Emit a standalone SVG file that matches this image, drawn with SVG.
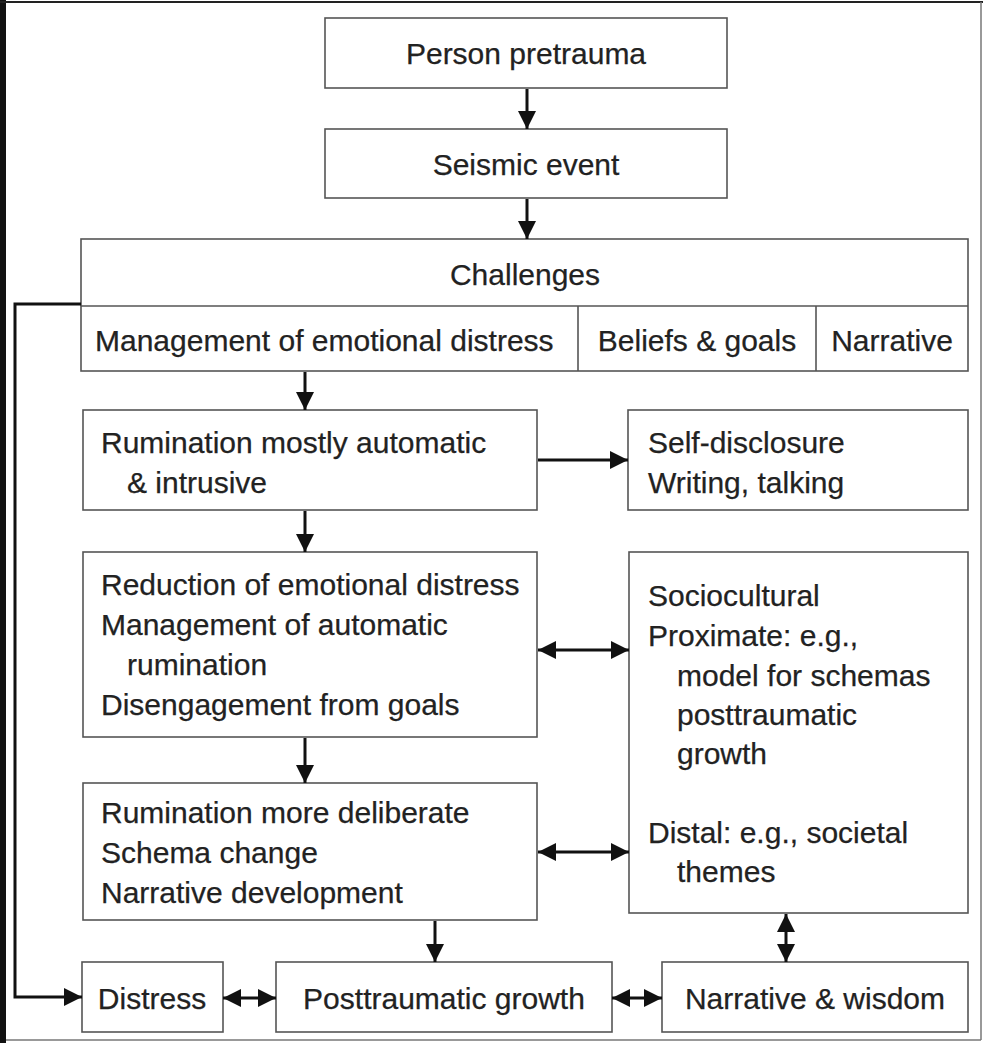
<svg xmlns="http://www.w3.org/2000/svg" width="983" height="1043" viewBox="0 0 983 1043">
<style>
.box{fill:#fff;stroke:#555;stroke-width:1.6}
.div{stroke:#555;stroke-width:1.6;fill:none}
.t{font-family:"Liberation Sans",Arial,sans-serif;font-size:30px;fill:#222;stroke:#222;stroke-width:0.25}
.c{text-anchor:middle}
.con{stroke:#111;stroke-width:3;fill:none}
.one{marker-end:url(#ah)}
.two{marker-start:url(#ah);marker-end:url(#ah)}
</style>
<defs>
<marker id="ah" viewBox="0 0 18 18" refX="18" refY="9" markerWidth="18" markerHeight="18" markerUnits="userSpaceOnUse" orient="auto-start-reverse">
<path d="M0,0 L18,9 L0,18 z" fill="#111"/>
</marker>
</defs>
<rect x="0" y="0" width="983" height="1043" fill="#fff"/>
<rect x="0" y="0" width="6" height="1043" fill="#111"/>
<line x1="0" y1="2" x2="983" y2="2" stroke="#222" stroke-width="2"/>
<line x1="981" y1="2" x2="981" y2="1040" stroke="#777" stroke-width="1.5"/>
<line x1="6" y1="1040" x2="981" y2="1040" stroke="#777" stroke-width="1.5"/>

<g id="person-pretrauma">
<rect class="box" x="325" y="18" width="402" height="70"/>
<text class="t c" x="526" y="64">Person pretrauma</text>
</g>
<g id="seismic-event">
<rect class="box" x="325" y="129" width="402" height="69"/>
<text class="t c" x="526" y="175">Seismic event</text>
</g>
<g id="challenges">
<rect class="box" x="81" y="239" width="887" height="132"/>
<line class="div" x1="81" y1="306" x2="968" y2="306"/>
<line class="div" x1="578" y1="306" x2="578" y2="371"/>
<line class="div" x1="816" y1="306" x2="816" y2="371"/>
<text class="t c" x="525" y="285">Challenges</text>
<text class="t" x="95" y="351">Management of emotional distress</text>
<text class="t c" x="697" y="351">Beliefs &amp; goals</text>
<text class="t c" x="892" y="351">Narrative</text>
</g>
<g id="rumination-automatic">
<rect class="box" x="83" y="410" width="454" height="100"/>
<text class="t" x="101" y="453">Rumination mostly automatic</text>
<text class="t" x="127" y="493">&amp; intrusive</text>
</g>
<g id="self-disclosure">
<rect class="box" x="628" y="410" width="340" height="100"/>
<text class="t" x="648" y="453">Self-disclosure</text>
<text class="t" x="648" y="493">Writing, talking</text>
</g>
<g id="reduction">
<rect class="box" x="83" y="552" width="454" height="185"/>
<text class="t" x="101" y="595">Reduction of emotional distress</text>
<text class="t" x="101" y="635">Management of automatic</text>
<text class="t" x="127" y="675">rumination</text>
<text class="t" x="101" y="715">Disengagement from goals</text>
</g>
<g id="sociocultural">
<rect class="box" x="629" y="552" width="339" height="361"/>
<text class="t" x="648" y="606">Sociocultural</text>
<text class="t" x="648" y="646">Proximate: e.g.,</text>
<text class="t" x="677" y="686">model for schemas</text>
<text class="t" x="677" y="725">posttraumatic</text>
<text class="t" x="677" y="764">growth</text>
<text class="t" x="648" y="843">Distal: e.g., societal</text>
<text class="t" x="677" y="882">themes</text>
</g>
<g id="rumination-deliberate">
<rect class="box" x="83" y="783" width="454" height="137"/>
<text class="t" x="101" y="823">Rumination more deliberate</text>
<text class="t" x="101" y="863">Schema change</text>
<text class="t" x="101" y="903">Narrative development</text>
</g>
<g id="distress">
<rect class="box" x="82" y="962" width="141" height="70"/>
<text class="t c" x="152" y="1009">Distress</text>
</g>
<g id="posttraumatic-growth">
<rect class="box" x="276" y="962" width="336" height="70"/>
<text class="t c" x="444" y="1009">Posttraumatic growth</text>
</g>
<g id="narrative-wisdom">
<rect class="box" x="662" y="962" width="306" height="70"/>
<text class="t c" x="815" y="1009">Narrative &amp; wisdom</text>
</g>

<g id="connectors">
<line class="con one" x1="527" y1="89" x2="527" y2="129"/>
<line class="con one" x1="527" y1="199" x2="527" y2="239"/>
<line class="con one" x1="305" y1="372" x2="305" y2="410"/>
<line class="con one" x1="538" y1="460" x2="628" y2="460"/>
<line class="con one" x1="305" y1="511" x2="305" y2="552"/>
<line class="con two" x1="538" y1="650" x2="629" y2="650"/>
<line class="con one" x1="305" y1="738" x2="305" y2="783"/>
<line class="con two" x1="538" y1="852" x2="629" y2="852"/>
<line class="con one" x1="435" y1="921" x2="435" y2="962"/>
<line class="con two" x1="786" y1="914" x2="786" y2="962"/>
<line class="con two" x1="223" y1="998" x2="276" y2="998"/>
<line class="con two" x1="612" y1="998" x2="662" y2="998"/>
<polyline class="con one" points="81,304 15,304 15,997 82,997"/>
</g>
</svg>
